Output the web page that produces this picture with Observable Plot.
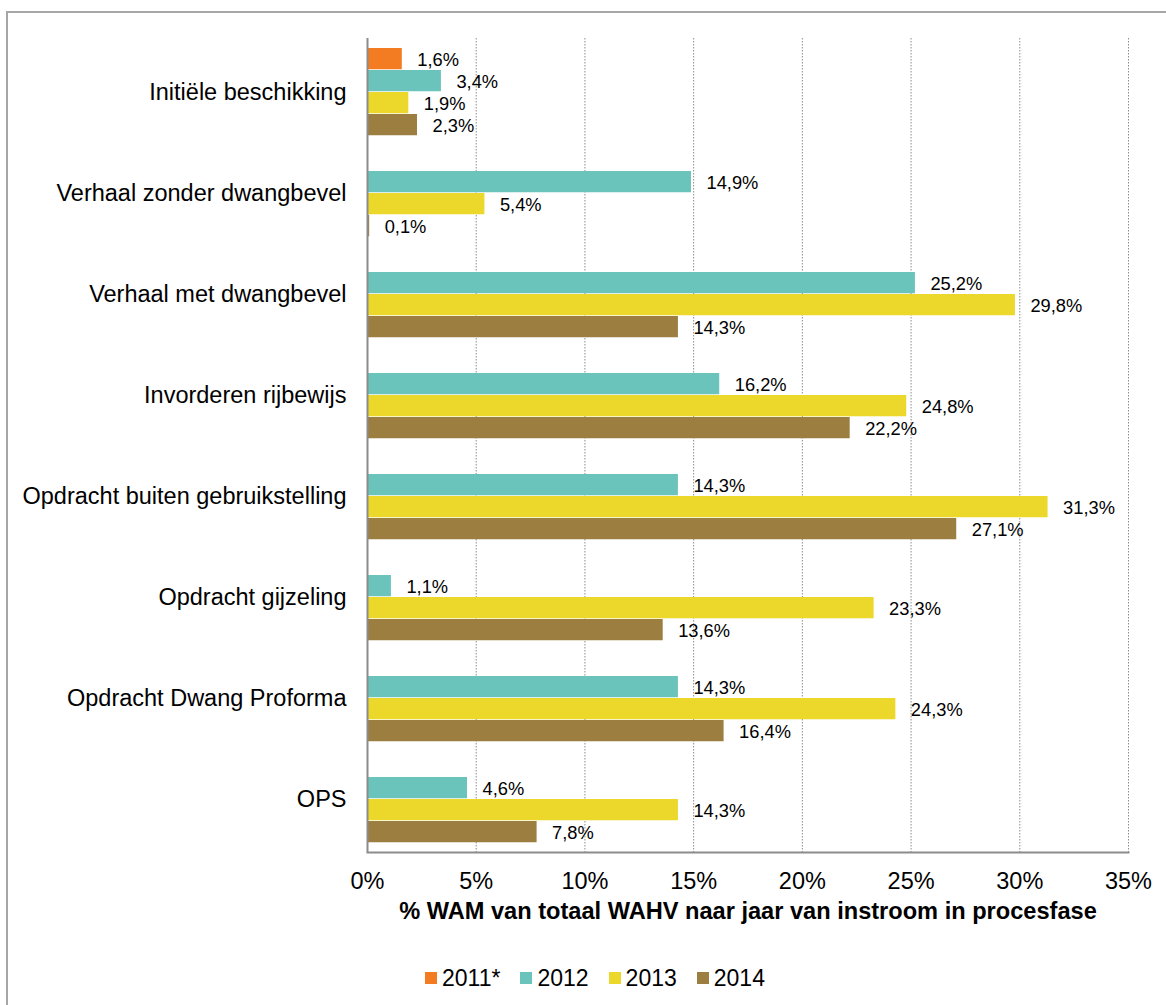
<!DOCTYPE html>
<html>
<head>
<meta charset="utf-8">
<script src="https://cdn.jsdelivr.net/npm/d3@7"></script>
<script src="https://cdn.jsdelivr.net/npm/@observablehq/plot@0.6"></script>
<style>
  html, body { margin: 0; padding: 0; background: #fff; overflow: hidden; }
  body { width: 1166px; height: 1005px; position: relative; font-family: "Liberation Sans", Arial, sans-serif; }
  #border { position: absolute; left: 6px; top: 11px; width: 1300px; height: 1200px; border: 2px solid #a6a6a6; box-sizing: border-box; }
  #chart { position: absolute; left: 0; top: 0; }
  #legend { position: absolute; left: 425px; top: 964px; display: flex; gap: 20px; font-size: 23px; color: #000; }
  #legend .item { display: flex; align-items: center; gap: 5px; line-height: 28px; }
  #legend .sw { width: 12px; height: 12px; display: inline-block; }
</style>
</head>
<body>
<div id="border"></div>
<div id="chart"></div>
<div id="legend"></div>
<script>
const categories = [
  "Initiële beschikking",
  "Verhaal zonder dwangbevel",
  "Verhaal met dwangbevel",
  "Invorderen rijbewijs",
  "Opdracht buiten gebruikstelling",
  "Opdracht gijzeling",
  "Opdracht Dwang Proforma",
  "OPS"
];
const years = ["2011*", "2012", "2013", "2014"];
const v2011 = [1.6, null, null, null, null, null, null, null];
const v2012 = [3.4, 14.9, 25.2, 16.2, 14.3, 1.1, 14.3, 4.6];
const v2013 = [1.9, 5.4, 29.8, 24.8, 31.3, 23.3, 24.3, 14.3];
const v2014 = [2.3, 0.1, 14.3, 22.2, 27.1, 13.6, 16.4, 7.8];
const colors = ["#F37C22", "#6BC4BB", "#ECD82A", "#9D7E41"];
const xTicks = [0, 5, 10, 15, 20, 25, 30, 35];
const xTitle = "% WAM van totaal WAHV naar jaar van instroom in procesfase";

const series = [v2011, v2012, v2013, v2014];
const marginTop = 38, marginBottom = 88, height = 940;
const band = (height - marginTop - marginBottom) / categories.length;
const pad = 7, barH = 22;
const fmt = v => v.toFixed(1).replace(".", ",") + "%";

const marks = [
  Plot.ruleX(xTicks.slice(1), {stroke: "#8c8c8c", strokeWidth: 1, strokeDasharray: "1.5,1.5"})
];
series.forEach((vals, k) => {
  const idx = d3.range(categories.length).filter(i => vals[i] != null);
  marks.push(Plot.barX(idx, {
    x: i => vals[i],
    y: i => categories[i],
    fill: colors[k],
    insetTop: pad + barH * k,
    insetBottom: band - pad - barH * (k + 1)
  }));
  marks.push(Plot.text(idx, {
    x: i => vals[i],
    y: i => categories[i],
    text: i => fmt(vals[i]),
    textAnchor: "start",
    dx: 15,
    dy: pad + barH * k + barH / 2 - band / 2 + 1,
    fontSize: 18.3,
    fill: "#000"
  }));
});
marks.push(Plot.ruleX([0], {stroke: "#8c8c8c", strokeWidth: 2}));
marks.push(Plot.frame({anchor: "bottom", stroke: "#8c8c8c", strokeWidth: 2}));
marks.push(Plot.text([xTitle], {
  frameAnchor: "bottom",
  dy: 66,
  text: d => d,
  fontWeight: "bold",
  fontSize: 23.6,
  fill: "#000"
}));

const chart = Plot.plot({
  width: 1166,
  height,
  marginTop,
  marginBottom,
  marginLeft: 367,
  marginRight: 38,
  style: {fontFamily: "'Liberation Sans', Arial, sans-serif", fontSize: "23.5px", color: "#000", background: "transparent"},
  x: {domain: [0, 35], ticks: xTicks, tickFormat: d => d + "%", tickSize: 0, tickPadding: 20, label: null},
  y: {domain: categories, padding: 0, tickSize: 0, tickPadding: 21, label: null},
  marks
});
document.getElementById("chart").appendChild(chart);

const legend = document.getElementById("legend");
years.forEach((y, k) => {
  const item = document.createElement("div");
  item.className = "item";
  const sw = document.createElement("span");
  sw.className = "sw";
  sw.style.background = colors[k];
  const t = document.createElement("span");
  t.textContent = y;
  item.appendChild(sw);
  item.appendChild(t);
  legend.appendChild(item);
});
</script>
</body>
</html>
